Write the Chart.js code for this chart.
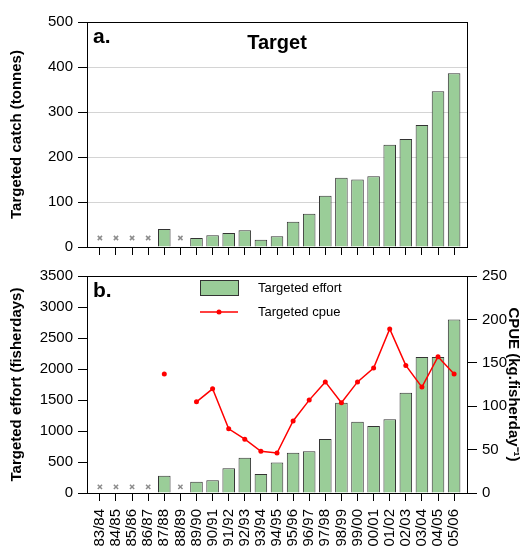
<!DOCTYPE html>
<html>
<head>
<meta charset="utf-8">
<script src="https://cdn.jsdelivr.net/npm/chart.js@4.4.1/dist/chart.umd.min.js"></script>
<style>
  html, body { margin: 0; padding: 0; background: #fff; }
  #wrap { position: relative; width: 525px; height: 548px; }
  #wrap canvas { position: absolute; left: 0; }
</style>
</head>
<body>
<div id="wrap">
  <canvas id="catchChart" width="525" height="262" style="top:0"></canvas>
  <canvas id="effortChart" width="525" height="286" style="top:262px"></canvas>
</div>
<script>
const seasons = ['83/84', '84/85', '85/86', '86/87', '87/88', '88/89', '89/90', '90/91', '91/92', '92/93', '93/94',
  '94/95', '95/96', '96/97', '97/98', '98/99', '99/00', '00/01', '01/02', '02/03', '03/04', '04/05', '05/06'];

// tonnes
const targetedCatch = [null, null, null, null, 40, null, 20, 26, 31, 37, 16, 24, 56, 74, 114, 154, 150, 157, 227, 240, 271, 346, 386];
// fisherdays
const targetedEffort = [null, null, null, null, 280, null, 180, 205, 400, 570, 305, 490, 650, 675, 870, 1455, 1150, 1080, 1190, 1615, 2195, 2195, 2800];
// kg per fisherday
const targetedCpue = [null, null, null, null, 137, null, 105, 120, 74, 62, 48, 46, 83, 107, 128, 104, 128, 144, 189, 147, 122, 157, 137];

const catchTicks = [0, 100, 200, 300, 400, 500];
const effortTicks = [0, 500, 1000, 1500, 2000, 2500, 3000, 3500];
const cpueTicks = [0, 50, 100, 150, 200, 250];

// level where the "no data" crosses sit
const noDataCatch = 20;
const noDataEffort = 100;

const barFill = '#9acd98';
const barEdge = '#333333';
const fontFamily = "'Liberation Sans', Arial, sans-serif";

Chart.defaults.font.family = fontFamily;
Chart.defaults.font.size = 15;
Chart.defaults.color = '#000';

const pts = arr => arr.map((v, i) => ({ x: i, y: v }));
const noData = (arr, level) => arr.flatMap((v, i) => v === null ? [{ x: i, y: level }] : []);

function seasonAxis(showLabels, height) {
  return {
    type: 'linear',
    min: -0.8,
    max: seasons.length - 0.2,
    offset: false,
    afterBuildTicks: s => { s.ticks = seasons.map((_, i) => ({ value: i })); },
    afterFit: s => { s.height = height; },
    grid: { drawOnChartArea: false, offset: false, tickLength: 8, tickColor: '#000' },
    border: { color: '#000' },
    ticks: {
      display: showLabels, autoSkip: false, minRotation: 90, maxRotation: 90, padding: 8,
      callback: v => seasons[v] ?? ''
    }
  };
}

function valueAxis(ticks, title, pos, width, gridColor) {
  return {
    type: 'linear',
    position: pos,
    min: ticks[0],
    max: ticks[ticks.length - 1],
    afterBuildTicks: s => { s.ticks = ticks.map(v => ({ value: v })); },
    afterFit: s => { s.width = width; },
    grid: {
      drawOnChartArea: !!gridColor, color: gridColor || '#000', tickColor: '#000',
      tickLength: pos === 'left' ? 9 : 10
    },
    border: { color: '#000' },
    ticks: { padding: 5, callback: v => String(v) },
    title: {
      display: true, text: title,
      font: { size: 15, weight: 'bold' },
      padding: { top: pos === 'left' ? 8 : 3, bottom: 0 }
    }
  };
}

// frame, panel letters, heading and legend
const panelDecor = {
  id: 'panelDecor',
  afterDraw(chart, args, opts) {
    const { ctx, chartArea: a } = chart;
    ctx.save();
    ctx.strokeStyle = '#000';
    ctx.lineWidth = 1;
    ctx.strokeRect(Math.round(a.left) + 0.5, Math.round(a.top) + 0.5, Math.round(a.width), Math.round(a.height));
    ctx.fillStyle = '#000';
    ctx.textBaseline = 'alphabetic';
    ctx.font = 'bold 21px ' + fontFamily;
    ctx.fillText(opts.tag, a.left + 6, a.top + 21);
    if (opts.heading) {
      ctx.textAlign = 'center';
      ctx.font = 'bold 20px ' + fontFamily;
      ctx.fillText(opts.heading, (a.left + a.right) / 2, a.top + 27);
      ctx.textAlign = 'left';
    }
    if (opts.legend) {
      const x0 = a.left + 113, x1 = a.left + 151;
      ctx.fillStyle = barFill;
      ctx.strokeStyle = barEdge;
      ctx.fillRect(x0, a.top + 4, x1 - x0, 15);
      ctx.strokeRect(x0 + 0.5, a.top + 4.5, x1 - x0, 15);
      ctx.strokeStyle = '#ff0000';
      ctx.lineWidth = 1.5;
      ctx.beginPath();
      ctx.moveTo(x0, a.top + 36);
      ctx.lineTo(x1, a.top + 36);
      ctx.stroke();
      ctx.fillStyle = '#ff0000';
      ctx.beginPath();
      ctx.arc((x0 + x1) / 2, a.top + 36, 2.5, 0, Math.PI * 2);
      ctx.fill();
      ctx.fillStyle = '#000';
      ctx.font = '13px ' + fontFamily;
      ctx.fillText(opts.legend[0], a.left + 171, a.top + 16);
      ctx.fillText(opts.legend[1], a.left + 171, a.top + 40);
    }
    ctx.restore();
  }
};

const crossStyle = {
  type: 'line', showLine: false, pointStyle: 'crossRot', pointRadius: 3,
  borderColor: '#8c8c8c', borderWidth: 1.5, order: 0
};

new Chart(document.getElementById('catchChart'), {
  type: 'bar',
  data: {
    datasets: [
      {
        label: 'Targeted catch', data: pts(targetedCatch),
        backgroundColor: barFill, borderColor: barEdge, borderWidth: 1,
        barPercentage: 0.78, categoryPercentage: 1, order: 1
      },
      Object.assign({ label: 'no data', data: noData(targetedCatch, noDataCatch) }, crossStyle)
    ]
  },
  options: {
    responsive: false,
    animation: false,
    layout: { padding: { top: 22, right: 58, left: 0, bottom: 0 } },
    scales: {
      x: seasonAxis(false, 15),
      y: valueAxis(catchTicks, 'Targeted catch (tonnes)', 'left', 87, '#d4d4d4')
    },
    plugins: {
      legend: { display: false },
      tooltip: { enabled: false },
      panelDecor: { tag: 'a.', heading: 'Target' }
    }
  },
  plugins: [panelDecor]
});

new Chart(document.getElementById('effortChart'), {
  type: 'bar',
  data: {
    datasets: [
      {
        label: 'Targeted effort', data: pts(targetedEffort), yAxisID: 'y',
        backgroundColor: barFill, borderColor: barEdge, borderWidth: 1,
        barPercentage: 0.78, categoryPercentage: 1, order: 2
      },
      {
        type: 'line', label: 'Targeted cpue', data: pts(targetedCpue), yAxisID: 'y2',
        borderColor: '#ff0000', backgroundColor: '#ff0000', borderWidth: 1.5,
        pointRadius: 2.5, pointBorderWidth: 0, spanGaps: false, tension: 0, order: 0
      },
      Object.assign({ label: 'no data', data: noData(targetedEffort, noDataEffort), yAxisID: 'y' }, crossStyle)
    ]
  },
  options: {
    responsive: false,
    animation: false,
    layout: { padding: { top: 5, right: 0, left: 0, bottom: 0 } },
    scales: {
      x: seasonAxis(true, 55),
      y: valueAxis(effortTicks, 'Targeted effort (fisherdays)', 'left', 87, null),
      y2: valueAxis(cpueTicks, 'CPUE (kg.fisherday\u207B\u00B9)', 'right', 58, null)
    },
    plugins: {
      legend: { display: false },
      tooltip: { enabled: false },
      panelDecor: { tag: 'b.', legend: ['Targeted effort', 'Targeted cpue'] }
    }
  },
  plugins: [panelDecor]
});
</script>
</body>
</html>
